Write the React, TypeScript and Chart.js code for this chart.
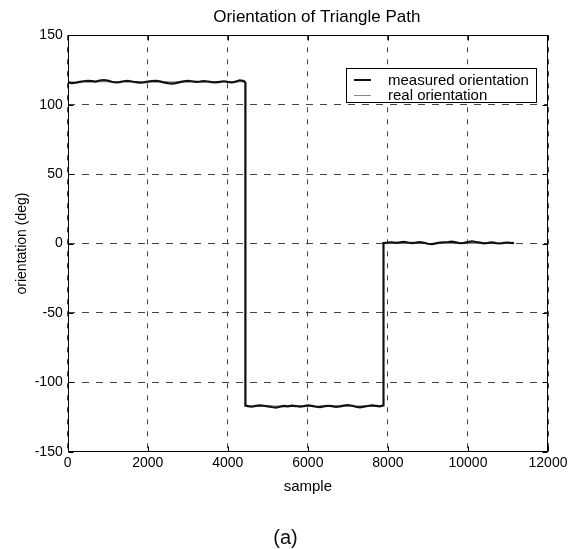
import React, { useEffect, useRef } from 'react';
import { Chart, registerables } from 'chart.js';

Chart.register(...registerables);

const chartTitle = 'Orientation of Triangle Path';
const xAxisTitle = 'sample';
const yAxisTitle = 'orientation (deg)';
const captionText = '(a)';
const legendLabels = ['measured orientation', 'real orientation'];

const xTicks = [0, 2000, 4000, 6000, 8000, 10000, 12000];
const yTicks = [-150, -100, -50, 0, 50, 100, 150];

const measuredX = [
  0, 100, 200, 300, 400, 500, 600, 700, 800, 900,
  1000, 1100, 1200, 1300, 1400, 1500, 1600, 1700, 1800, 1900,
  2000, 2100, 2200, 2300, 2400, 2500, 2600, 2700, 2800, 2900,
  3000, 3100, 3200, 3300, 3400, 3500, 3600, 3700, 3800, 3900,
  4000, 4100, 4200, 4300, 4400, 4440,
  4440, 4500, 4600, 4700, 4800, 4900, 5000, 5100, 5200, 5300,
  5400, 5500, 5600, 5700, 5800, 5900, 6000, 6100, 6200, 6300,
  6400, 6500, 6600, 6700, 6800, 6900, 7000, 7100, 7200, 7300,
  7400, 7500, 7600, 7700, 7800, 7880,
  7890, 8000, 8100, 8200, 8300, 8400, 8500, 8600, 8700, 8800,
  8900, 9000, 9100, 9200, 9300, 9400, 9500, 9600, 9700, 9800,
  9900, 10000, 10100, 10200, 10300, 10400, 10500, 10600, 10700, 10800,
  10900, 11000, 11100, 11150,
];

const measuredY = [
  116.0, 115.6, 115.8, 116.4, 116.9, 117.2, 117.0, 116.6, 117.4, 117.8,
  117.3, 116.5, 116.0, 116.3, 116.9, 117.1, 116.7, 116.2, 115.9, 116.1,
  116.6, 117.0, 117.2, 116.8, 116.1, 115.5, 115.2, 115.6, 116.3, 116.8,
  117.1, 116.9, 116.4, 116.6, 117.0, 116.7, 116.3, 116.1, 116.5, 116.9,
  116.4, 116.0, 116.6, 117.6, 117.0, 115.8,
  -116.8, -117.2, -117.6, -117.0, -116.6, -116.9, -117.3, -117.8, -118.2, -117.6,
  -117.0, -117.4, -116.8, -117.1, -117.5, -117.2, -116.7, -117.0, -117.6, -117.9,
  -117.3, -116.9, -117.2, -117.7, -117.4, -116.8, -116.4, -116.9, -117.6, -118.0,
  -117.5, -117.1, -116.7, -117.0, -117.4, -116.6,
  0.4, 0.6, 0.9, 0.5, 0.8, 1.2, 0.7, 0.3, 0.6, 1.0,
  0.5, -0.2, -0.4, 0.1, 0.6, 0.9, 1.1, 1.4, 0.8, 0.2,
  0.5, 1.0, 1.5, 1.1, 0.6, 0.1, 0.4, 0.8, 0.3, 0.0,
  0.4, 0.7, 0.3, 0.5,
];

const realX = [0, 4440, 4440, 7890, 7890, 11150];
const realY = [116.5, 116.5, -117.0, -117.0, 0, 0];

const FONT = '"Liberation Sans", Arial, Helvetica, sans-serif';

const framePlugin = {
  id: 'frameAndTitle',
  afterDraw(chart: any) {
    const { ctx, chartArea, scales } = chart;
    const { left, right, top, bottom } = chartArea;
    ctx.save();
    ctx.setLineDash([]);
    ctx.strokeStyle = '#000';
    ctx.lineWidth = 1;
    const L = Math.round(left) + 0.5;
    const R = Math.round(right) - 0.5;
    const T = Math.round(top) + 0.5;
    const B = Math.round(bottom) - 0.5;
    ctx.strokeRect(L, T, R - L, B - T);
    ctx.beginPath();
    xTicks.forEach((v) => {
      const px = Math.round(scales.x.getPixelForValue(v)) + 0.5;
      ctx.moveTo(px, B);
      ctx.lineTo(px, B - 5);
      ctx.moveTo(px, T);
      ctx.lineTo(px, T + 5);
    });
    yTicks.forEach((v) => {
      const py = Math.round(scales.y.getPixelForValue(v)) + 0.5;
      ctx.moveTo(L, py);
      ctx.lineTo(L + 5, py);
      ctx.moveTo(R, py);
      ctx.lineTo(R - 5, py);
    });
    ctx.stroke();
    ctx.fillStyle = '#000';
    ctx.font = `17px ${FONT}`;
    ctx.textAlign = 'center';
    ctx.textBaseline = 'middle';
    ctx.fillText(chartTitle, (left + right) / 2 + 9, 17);
    ctx.restore();
  },
};

export default function App() {
  const canvasRef = useRef<HTMLCanvasElement | null>(null);

  useEffect(() => {
    const canvas = canvasRef.current;
    if (!canvas) return;
    const measured = measuredX.map((x, i) => ({ x, y: measuredY[i] }));
    const real = realX.map((x, i) => ({ x, y: realY[i] }));
    const chart = new Chart(canvas, {
      type: 'scatter',
      data: {
        datasets: [
          {
            label: legendLabels[0],
            data: measured,
            showLine: true,
            borderColor: '#111',
            borderWidth: 2.2,
            pointRadius: 0,
            tension: 0,
          },
          {
            label: legendLabels[1],
            data: real,
            showLine: true,
            borderColor: '#888',
            borderWidth: 1,
            pointRadius: 0,
            tension: 0,
          },
        ],
      },
      options: {
        animation: false,
        responsive: false,
        maintainAspectRatio: false,
        layout: { padding: { top: 35.3, right: 27, bottom: 0, left: 0 } },
        plugins: {
          legend: { display: false },
          title: { display: false },
          tooltip: { enabled: false },
        },
        scales: {
          x: {
            type: 'linear',
            min: 0,
            max: 12000,
            afterBuildTicks: (scale: any) => {
              scale.ticks = xTicks.map((v) => ({ value: v }));
            },
            afterFit: (scale: any) => {
              scale.height = 97.3;
            },
            ticks: {
              autoSkip: false,
              maxRotation: 0,
              padding: 3,
              color: '#000',
              font: { family: FONT, size: 14 },
              callback: (v: any) => String(v),
            },
            grid: { color: '#444', lineWidth: 1, drawTicks: false },
            border: { display: false, dash: [5, 7] },
            title: {
              display: true,
              text: xAxisTitle,
              color: '#000',
              font: { family: FONT, size: 15 },
              padding: { top: 0, bottom: 53 },
            },
          },
          y: {
            type: 'linear',
            min: -150,
            max: 150,
            afterBuildTicks: (scale: any) => {
              scale.ticks = yTicks.map((v) => ({ value: v }));
            },
            afterFit: (scale: any) => {
              scale.width = 67.7;
            },
            ticks: {
              autoSkip: false,
              padding: 5,
              color: '#000',
              font: { family: FONT, size: 14 },
              callback: (v: any) => String(v),
            },
            grid: { color: '#444', lineWidth: 1, drawTicks: false },
            border: { display: false, dash: [7, 7] },
            title: {
              display: true,
              text: yAxisTitle,
              color: '#000',
              font: { family: FONT, size: 14 },
              padding: { top: 14, bottom: 0 },
            },
          },
        },
      },
      plugins: [framePlugin],
    });
    return () => chart.destroy();
  }, []);

  const lineRow = (i: number) => ({
    position: 'absolute' as const,
    left: 7,
    width: 17,
    top: i === 0 ? 10 : 25.5,
    height: 0,
    borderTop: i === 0 ? '2px solid #111' : '1px solid #888',
  });
  const textRow = (i: number) => ({
    position: 'absolute' as const,
    left: 41,
    top: i === 0 ? 2 : 17,
    lineHeight: '18px',
    fontSize: 15,
    fontFamily: FONT,
    color: '#000',
    whiteSpace: 'nowrap' as const,
  });

  return (
    <div style={{ position: 'absolute', left: 0, top: 0, width: 575, height: 549, background: '#fff' }}>
      <canvas ref={canvasRef} width={575} height={549} style={{ display: 'block', width: 575, height: 549 }} />
      <div
        style={{
          position: 'absolute',
          left: 346,
          top: 68,
          width: 191,
          height: 35,
          boxSizing: 'border-box',
          border: '1px solid #000',
          background: '#fff',
        }}
      >
        {legendLabels.map((lab, i) => (
          <React.Fragment key={lab}>
            <div style={lineRow(i)} />
            <div style={textRow(i)}>{lab}</div>
          </React.Fragment>
        ))}
      </div>
      <div
        style={{
          position: 'absolute',
          left: 235.5,
          width: 100,
          top: 525,
          lineHeight: '24px',
          textAlign: 'center',
          fontSize: 20,
          fontFamily: FONT,
          color: '#111',
        }}
      >
        {captionText}
      </div>
    </div>
  );
}
